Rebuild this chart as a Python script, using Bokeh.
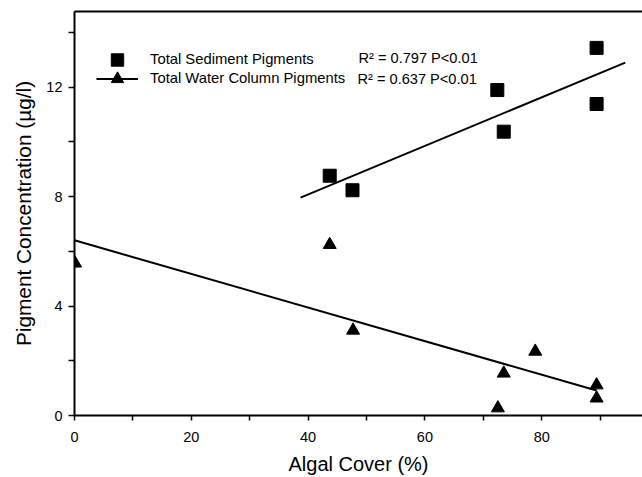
import numpy as np
from bokeh.plotting import figure
from bokeh.models import FixedTicker, Label, Legend, LegendItem, Range1d, LinearAxis
from bokeh.embed import file_html
from bokeh.resources import INLINE

# ---- axis ticks ----
x_ticks = [0, 20, 40, 60, 80]
x_minor = [10, 30, 50, 70, 90]
y_ticks = [0, 4, 8, 12]
y_minor = [2, 6, 10, 14]

# ---- data ----
sed_cover = [43.7, 47.6, 72.4, 73.5, 89.4, 89.4]
sed_pigment = [8.76, 8.23, 11.89, 10.37, 13.43, 11.38]

wat_cover = [0.1, 43.7, 47.7, 78.9, 73.5, 72.5, 89.4, 89.4]
wat_pigment = [5.56, 6.24, 3.11, 2.34, 1.54, 0.27, 1.11, 0.63]

# x extent of each drawn regression line
sed_fit_span = [38.7, 94.3]
wat_fit_span = [0.0, 89.4]

series_names = ["Total Sediment Pigments", "Total Water Column Pigments"]
stats_text = ["R\u00b2 = 0.797 P<0.01", "R\u00b2 = 0.637 P<0.01"]

x_title = "Algal Cover (%)"
y_title = "Pigment Concentration (\u00b5g/l)"

FONT = "Liberation Sans"
X_END = 97.26
Y_END = 14.76

p = figure(width=642, height=477, output_backend="svg", toolbar_location=None,
           x_range=Range1d(0, X_END), y_range=Range1d(0, Y_END),
           min_border_left=74, min_border_right=0, min_border_top=11,
           min_border_bottom=60)
p.outline_line_color = None
p.grid.visible = False
p.background_fill_color = "white"
p.border_fill_color = "white"

# regression lines from the data
sk, sb = np.polyfit(sed_cover, sed_pigment, 1)
wk, wb = np.polyfit(wat_cover, wat_pigment, 1)
sfx = np.array(sed_fit_span)
wfx = np.array(wat_fit_span)
r_sline = p.line(sfx, sk * sfx + sb, line_color="black", line_width=2)
r_wline = p.line(wfx, wk * wfx + wb, line_color="black", line_width=2)

r_sq = p.scatter(sed_cover, sed_pigment, marker="square", size=13,
                 fill_color="black", line_color="black")
r_tri = p.scatter(wat_cover, wat_pigment, marker="triangle", size=13,
                  fill_color="black", line_color="black")

# axes
p.xaxis.ticker = FixedTicker(ticks=x_ticks, minor_ticks=x_minor)
p.yaxis.ticker = FixedTicker(ticks=y_ticks, minor_ticks=y_minor)
p.xaxis.axis_label = x_title
p.yaxis.axis_label = y_title
for ax in (p.xaxis[0], p.yaxis[0]):
    ax.axis_line_width = 2
    ax.axis_line_color = "black"
    ax.major_tick_line_width = 1.5
    ax.minor_tick_line_width = 1.5
    ax.major_tick_line_color = "black"
    ax.minor_tick_line_color = "black"
    ax.major_tick_in = 0
    ax.minor_tick_in = 0
    ax.major_label_text_font = FONT
    ax.major_label_text_font_size = "14.5px"
    ax.major_label_text_color = "black"
    ax.axis_label_text_font = FONT
    ax.axis_label_text_font_style = "normal"
    ax.axis_label_text_color = "black"
p.xaxis.axis_label_text_font_size = "20px"
p.yaxis.axis_label_text_font_size = "20.8px"
p.xaxis.major_tick_out = 5
p.xaxis.minor_tick_out = 5
p.yaxis.major_tick_out = 6
p.yaxis.minor_tick_out = 6
p.xaxis.major_label_standoff = 11
p.xaxis.axis_label_standoff = 8
p.yaxis.major_label_standoff = 6
p.yaxis.axis_label_standoff = 8

# top frame line: a bare axis above
top_axis = LinearAxis(ticker=FixedTicker(ticks=[]), axis_line_width=2, axis_line_color="black",
                      major_tick_out=0, major_tick_in=0, minor_tick_out=0, minor_tick_in=0,
                      major_label_standoff=0, major_label_text_font_size="0px",
                      major_tick_line_color=None, minor_tick_line_color=None)
p.add_layout(top_axis, "above")

# legend: one legend per row so that keys keep full marker size
common = dict(glyph_width=42, glyph_height=31, label_height=31, label_standoff=12,
              padding=0, margin=0, border_line_color=None, background_fill_alpha=0,
              label_text_font=FONT, label_text_font_size="14.8px", label_text_color="black")
leg1 = Legend(items=[LegendItem(label=series_names[0], renderers=[r_sq])],
              location=(22, 340.5), **common)
leg2 = Legend(items=[LegendItem(label=series_names[1], renderers=[r_wline, r_tri])],
              location=(22, 321.5), **common)
p.add_layout(leg1)
p.add_layout(leg2)

p.add_layout(Label(x=284, y=358, x_units="screen", y_units="screen", text=stats_text[0],
                   text_baseline="middle", text_font=FONT, text_font_size="14.6px",
                   text_color="black"))
p.add_layout(Label(x=283, y=336.5, x_units="screen", y_units="screen", text=stats_text[1],
                   text_baseline="middle", text_font=FONT, text_font_size="14.6px",
                   text_color="black"))

open("out.html", "w").write(file_html(p, INLINE))
